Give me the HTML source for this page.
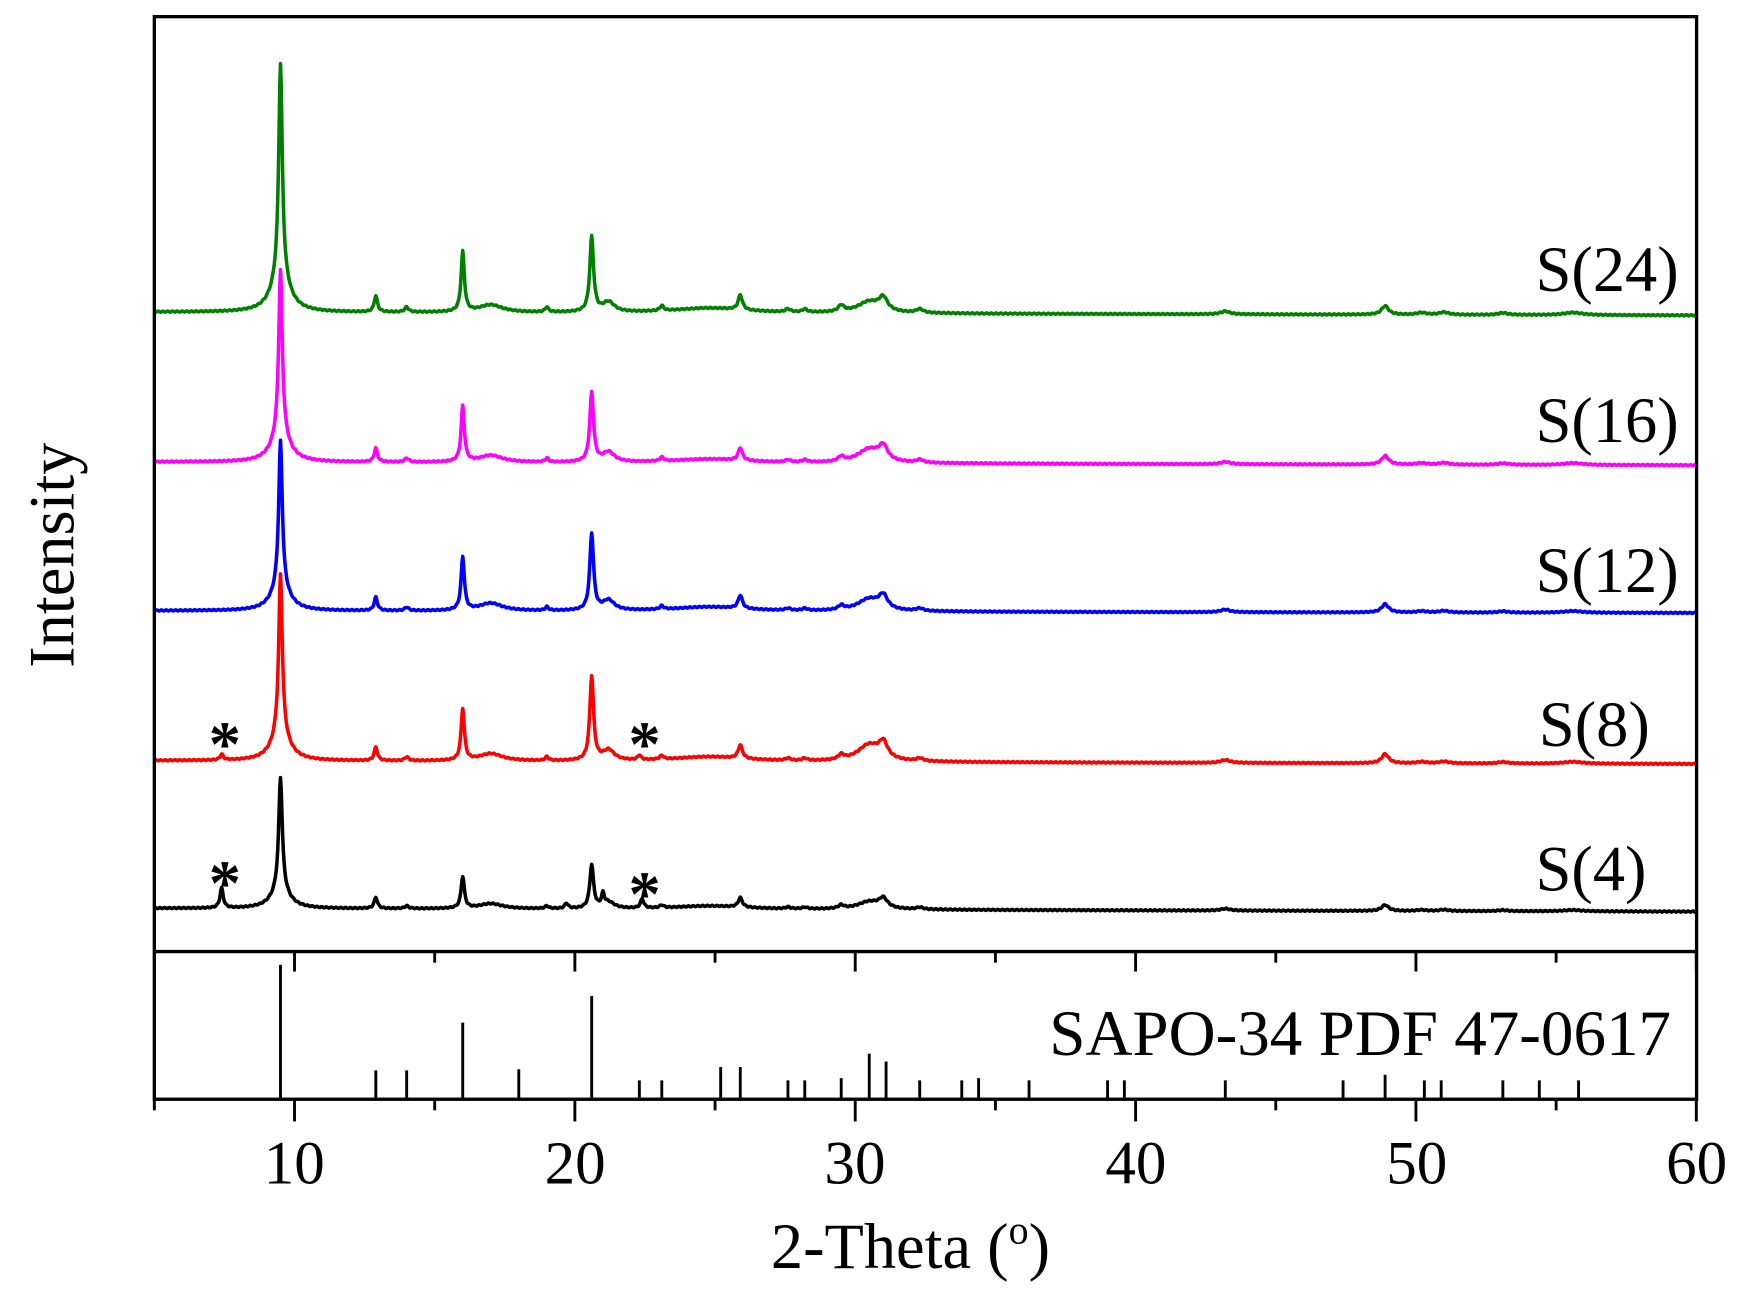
<!DOCTYPE html>
<html><head><meta charset="utf-8"><style>
html,body{margin:0;padding:0;background:#fff;width:1741px;height:1301px;overflow:hidden}
svg{display:block}
text{font-family:"Liberation Serif",serif;fill:#000}
</style></head><body>
<svg id="s" width="1741" height="1301" viewBox="0 0 1568 1171.7" preserveAspectRatio="none" xmlns="http://www.w3.org/2000/svg">
<rect x="0" y="0" width="1568" height="1172" fill="#fff"/>
<g id="curves" fill="none" stroke-width="3.2" stroke-linejoin="round"></g>
<g id="ticks" stroke="#000" stroke-width="2.6"></g>
<rect x="139" y="15" width="1389" height="975" fill="none" stroke="#000" stroke-width="3"/>
<line x1="139" y1="857" x2="1528" y2="857" stroke="#000" stroke-width="3"/>
<g font-size="58">
<text x="1383" y="262">S(24)</text>
<text x="1383" y="398">S(16)</text>
<text x="1383" y="533">S(12)</text>
<text x="1386" y="672">S(8)</text>
<text x="1383" y="802">S(4)</text>
<text x="945" y="950" textLength="560" lengthAdjust="spacingAndGlyphs">SAPO-34 PDF 47-0617</text>
</g>
<g font-size="58" font-weight="bold">
<text x="188" y="690">*</text><text x="566" y="690">*</text>
<text x="188" y="815">*</text><text x="566" y="825">*</text>
</g>
<g font-size="55" text-anchor="middle">
<text x="265" y="1066">10</text><text x="518" y="1066">20</text><text x="770" y="1066">30</text>
<text x="1023" y="1066">40</text><text x="1276" y="1066">50</text><text x="1528" y="1066">60</text>
</g>
<g font-size="58" text-anchor="middle">
<text x="820" y="1142">2-Theta (<tspan font-size="36" dy="-22">o</tspan><tspan dy="22">)</tspan></text>
<text transform="translate(66,500) rotate(-90)">Intensity</text>
</g>
</svg>
<script>
var NS="http://www.w3.org/2000/svg";
function X(v){return 139+(v-5)*25.25;}
var common=[[12.9,0.065,0.07],[14.0,0.02,0.08],[16.0,0.24,0.07],[17.0,0.03,0.5],[19.0,0.02,0.07],[20.6,0.3,0.08],[21.2,0.04,0.25],[23.1,0.02,0.08],[24.8,0.02,1.6],[25.9,0.06,0.09],[27.6,0.012,0.1],[28.2,0.012,0.1],[29.5,0.025,0.12],[30.5,0.045,0.5],[31.0,0.05,0.18],[32.3,0.015,0.15],[43.2,0.012,0.2],[48.9,0.035,0.15],[50.2,0.008,0.2],[51,0.01,0.2],[53.1,0.008,0.2],[55.6,0.01,0.4]];
var series=[
 {c:"#008000",b:281,e:284,h:224,s:[1,1,1,1,1,1,1,1,1,1,1,1,1,1,1,1,1,1,1,1,1,1],x:[]},
 {c:"#ff00ff",b:416,e:419,h:173,s:[1.1,1,1.2,1.2,1,1.2,1.3,1,1,1.1,1,1,1,1.6,1.4,1,1,1.3,1,1,1,1],x:[]},
 {c:"#0000ff",b:550,e:552,h:153,s:[1.2,1,1.3,1.5,1,1.5,1.5,1,1.3,1.3,1,1,1,1.6,1.5,1,1.3,1.4,1,1,1,1],x:[]},
 {c:"#ff0000",b:685,e:688,h:168,s:[1.1,1,1.15,1.3,1,1.5,1.4,1,1.3,1.2,1,1,1,2,1.6,1,1.3,1.4,1,1,1,1],x:[[7.4,0.03,0.07],[22.3,0.025,0.07]]},
 {c:"#000000",b:818,e:821,h:118,s:[1.3,1,1.0,1.3,1,1.1,1.2,1,1.3,1.2,1,1,1,1.3,1.4,1,1.2,1.3,1,1,1,1],x:[[7.4,0.15,0.07],[21.0,0.09,0.06],[22.4,0.07,0.07],[19.7,0.04,0.07]]}
];
var g=document.getElementById("curves");
series.forEach(function(S,si){
 var pk=common.map(function(p,i){return [p[0],p[1]*S.s[i],p[2]];}).concat(S.x);
 var d="";
 for(var v=5;v<=60.0001;v+=0.025){
  var y=S.b+(S.e-S.b)*(v-5)/55;
  var I=1/(1+Math.pow((v-9.5)/0.075,2))*0.85+0.15/(1+Math.pow((v-9.5)/0.35,2));
  for(var k=0;k<pk.length;k++){var p=pk[k];I+=p[1]/(1+Math.pow((v-p[0])/p[2],2));}
  y-=I*S.h+Math.sin(v*37+si)*0.5;
  d+=(d?"L":"M")+X(v).toFixed(2)+" "+y.toFixed(2);
 }
 var p=document.createElementNS(NS,"path");p.setAttribute("d",d);p.setAttribute("stroke",S.c);g.appendChild(p);
});
var t=document.getElementById("ticks");
function L(x1,y1,x2,y2,w){var l=document.createElementNS(NS,"line");l.setAttribute("x1",x1);l.setAttribute("y1",y1);l.setAttribute("x2",x2);l.setAttribute("y2",y2);if(w)l.setAttribute("stroke-width",w);t.appendChild(l);}
for(var v=5;v<=60;v+=5){var maj=v%10==0;L(X(v),857,X(v),857+(maj?18:10));L(X(v),990,X(v),990+(maj?20:10));}
var sticks=[[9.5,869],[12.9,964],[14,964],[16,921],[18,963],[20.6,897],[22.3,973],[23.1,973],[25.2,961],[25.9,961],[27.6,973],[28.2,973],[29.5,971],[30.5,949],[31.1,956],[32.3,973],[33.8,973],[34.4,971],[36.2,973],[39,973],[39.6,973],[43.2,973],[47.4,973],[48.9,968],[50.3,973],[50.9,973],[53.1,973],[54.4,973],[55.8,973]];
sticks.forEach(function(s){L(X(s[0]),990,X(s[0]),s[1],2.6);});
</script>
</body></html>
